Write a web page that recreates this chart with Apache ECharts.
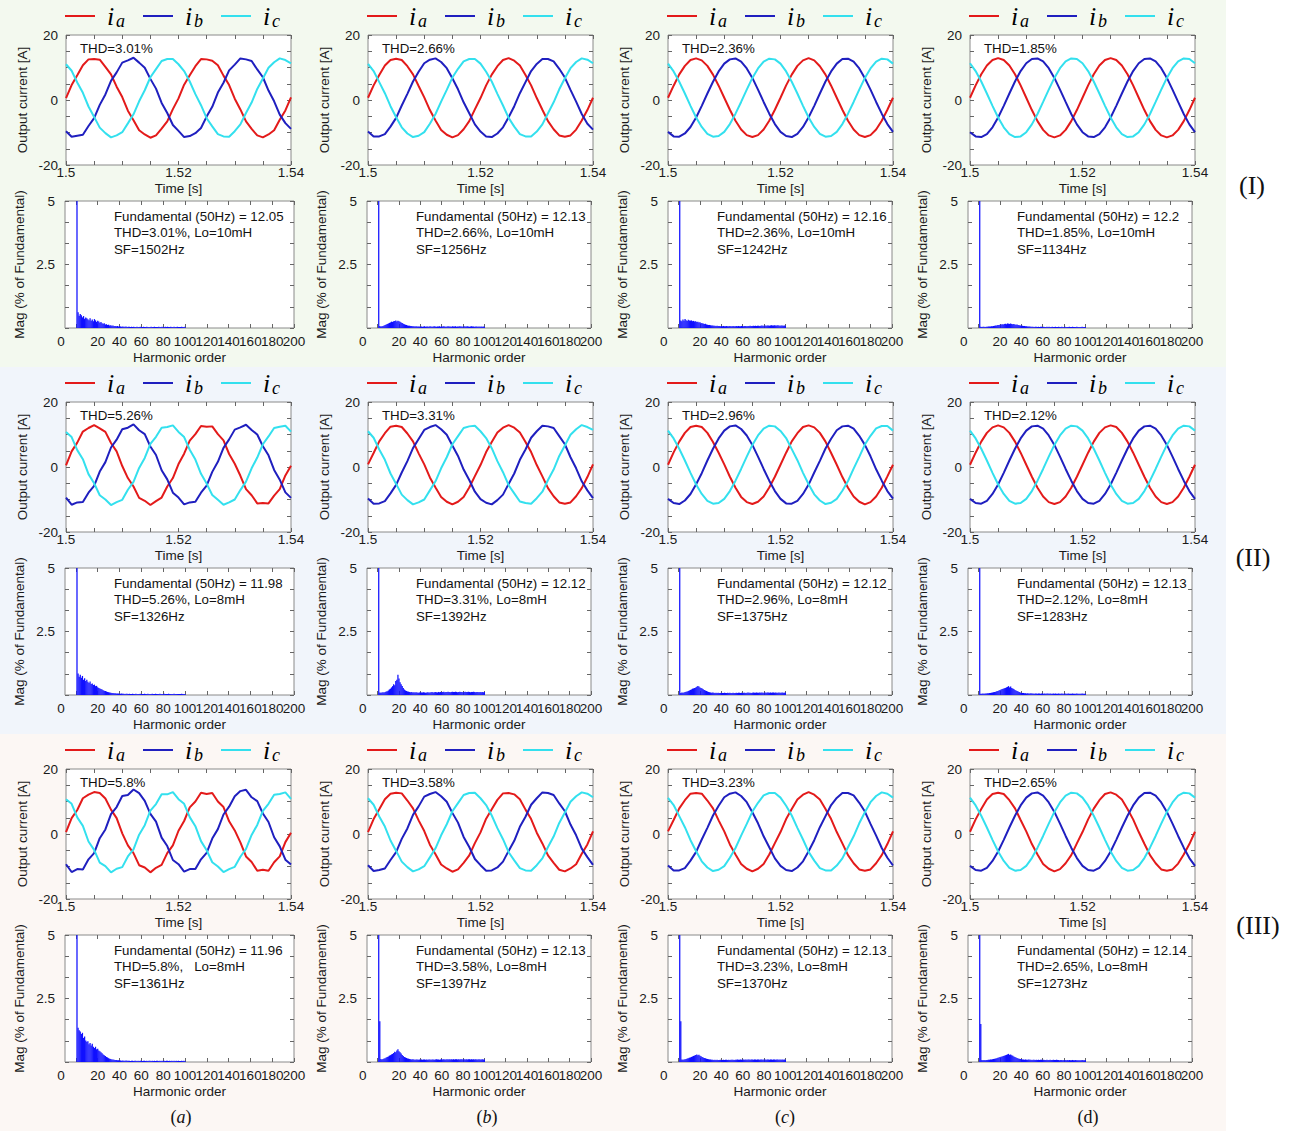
<!DOCTYPE html>
<html><head><meta charset="utf-8">
<script src="https://cdn.jsdelivr.net/npm/echarts/dist/echarts.min.js"></script>
<style>html,body{margin:0;padding:0;background:#fff}#c{width:1300px;height:1131px}</style>
</head><body><div id="c"></div><script>
// ---------------- DATA ----------------
const timeS = [1.500,1.501,1.502,1.503,1.504,1.505,1.506,1.507,1.508,1.509,1.510,1.511,1.512,1.513,1.514,1.515,1.516,1.517,1.518,1.519,1.520,1.521,1.522,1.523,1.524,1.525,1.526,1.527,1.528,1.529,1.530,1.531,1.532,1.533,1.534,1.535,1.536,1.537,1.538,1.539,1.540];
const harmonicTicks = [0,20,40,60,80,100,120,140,160,180,200];

// Row I
const ia_Ia = [0.6,4.6,7.6,10.7,12.5,12.6,12.4,10.2,7.9,4.1,0.9,-3.3,-6.2,-9.3,-10.6,-11.6,-10.9,-8.8,-6.6,-2.8,0.5,4.7,7.6,10.4,12.6,12.5,12.1,10.7,7.5,4.6,0.4,-2.9,-6.6,-8.9,-10.9,-11.5,-10.6,-9.3,-6.1,-3.2,0.8];
const ib_Ia = [-9.6,-11.3,-11.0,-10.7,-8.0,-5.6,-1.5,1.7,5.9,8.5,11.5,12.2,13.0,11.5,9.9,6.5,3.5,-0.9,-4.0,-7.7,-9.5,-11.4,-11.1,-10.2,-8.6,-5.1,-2.1,2.3,5.3,9.1,10.9,12.8,12.5,12.0,9.4,7.0,2.9,-0.4,-4.5,-7.1,-8.9];
const ic_Ia = [11.0,9.0,5.4,2.2,-2.0,-5.2,-8.5,-10.2,-11.5,-10.9,-9.9,-7.2,-4.4,-0.4,3.0,7.0,9.5,12.0,12.6,12.6,11.0,8.9,5.7,1.8,-1.6,-5.6,-8.1,-10.5,-11.2,-11.3,-9.6,-7.5,-4.0,-0.8,3.4,6.6,9.9,11.6,12.8,12.3,11.3];
const ia_Ib = [0.7,4.5,7.7,10.6,12.3,12.7,12.3,10.4,7.9,4.3,0.8,-3.1,-6.3,-9.2,-10.7,-11.5,-10.8,-9.0,-6.5,-2.9,0.6,4.5,7.8,10.4,12.3,12.9,12.1,10.6,7.7,4.5,0.6,-3.0,-6.5,-9.0,-10.9,-11.3,-10.9,-9.1,-6.3,-3.1,0.7];
const ib_Ib = [-9.7,-11.2,-11.2,-10.5,-8.2,-5.5,-1.7,1.9,5.7,8.7,11.3,12.4,12.8,11.7,9.8,6.7,3.3,-0.7,-4.1,-7.5,-9.7,-11.2,-11.4,-10.3,-8.4,-5.3,-1.9,2.1,5.5,8.9,11.1,12.6,12.6,11.9,9.6,6.9,3.1,-0.5,-4.3,-7.3,-9.1];
const ic_Ib = [11.1,8.9,5.5,2.1,-1.9,-5.3,-8.4,-10.3,-11.4,-11.0,-9.9,-7.3,-4.3,-0.5,3.1,6.9,9.6,11.9,12.6,12.6,11.2,8.7,5.7,1.9,-1.7,-5.5,-8.2,-10.5,-11.2,-11.2,-9.7,-7.5,-4.1,-0.7,3.3,6.7,9.8,11.7,12.8,12.4,11.3];
const ia_Ic = [0.7,4.4,7.9,10.5,12.3,12.8,12.2,10.5,7.8,4.4,0.7,-3.0,-6.4,-9.1,-10.8,-11.4,-10.8,-9.1,-6.4,-3.0,0.7,4.5,7.8,10.5,12.2,12.9,12.2,10.4,7.8,4.4,0.7,-3.0,-6.4,-9.1,-10.8,-11.4,-10.8,-9.1,-6.4,-3.0,0.7];
const ib_Ic = [-9.8,-11.2,-11.3,-10.3,-8.3,-5.4,-1.8,2.0,5.6,8.8,11.2,12.5,12.8,11.8,9.7,6.8,3.2,-0.6,-4.2,-7.4,-9.8,-11.1,-11.4,-10.4,-8.3,-5.3,-1.8,2.0,5.7,8.8,11.2,12.6,12.7,11.8,9.7,6.7,3.2,-0.6,-4.2,-7.4,-9.8];
const ic_Ic = [11.2,8.8,5.6,2.0,-1.8,-5.4,-8.3,-10.4,-11.3,-11.1,-9.8,-7.4,-4.2,-0.6,3.2,6.8,9.7,11.8,12.7,12.5,11.2,8.8,5.6,2.0,-1.8,-5.4,-8.3,-10.4,-11.3,-11.1,-9.8,-7.4,-4.2,-0.6,3.2,6.8,9.7,11.8,12.7,12.5,11.2];
const ia_Id = [0.7,4.5,7.9,10.6,12.3,12.9,12.3,10.6,7.9,4.5,0.7,-3.1,-6.5,-9.2,-10.9,-11.5,-10.9,-9.2,-6.5,-3.1,0.7,4.5,7.9,10.6,12.3,12.9,12.3,10.6,7.9,4.5,0.7,-3.1,-6.5,-9.2,-10.9,-11.5,-10.9,-9.2,-6.5,-3.1,0.7];
const ib_Id = [-9.9,-11.2,-11.4,-10.5,-8.4,-5.4,-1.8,2.0,5.7,8.9,11.3,12.6,12.8,11.9,9.8,6.8,3.2,-0.6,-4.3,-7.5,-9.9,-11.2,-11.4,-10.5,-8.4,-5.4,-1.8,2.0,5.7,8.9,11.3,12.6,12.8,11.9,9.8,6.8,3.2,-0.6,-4.3,-7.5,-9.9];
const ic_Id = [11.3,8.9,5.7,2.0,-1.8,-5.4,-8.4,-10.5,-11.4,-11.2,-9.9,-7.5,-4.3,-0.6,3.2,6.8,9.8,11.9,12.8,12.6,11.3,8.9,5.7,2.0,-1.8,-5.4,-8.4,-10.5,-11.4,-11.2,-9.9,-7.5,-4.3,-0.6,3.2,6.8,9.8,11.9,12.8,12.6,11.3];
// Row II
const ia_IIa = [0.5,4.8,7.5,10.9,12.0,12.9,11.9,10.8,7.4,4.8,0.3,-3.4,-6.0,-9.5,-10.4,-11.7,-10.5,-9.4,-6.0,-3.4,0.9,4.1,8.1,10.1,12.6,12.4,12.5,10.1,8.2,4.0,1.0,-2.7,-6.8,-8.7,-11.2,-11.1,-11.2,-8.8,-6.8,-2.6,0.4];
const ib_IIa = [-9.4,-11.6,-10.9,-10.8,-7.9,-5.8,-1.4,1.5,6.0,8.4,11.6,12.1,13.1,11.3,10.1,6.3,3.7,-1.0,-3.8,-7.9,-9.4,-11.5,-10.9,-10.7,-7.9,-5.7,-1.5,1.6,5.9,8.5,11.5,12.2,13.0,11.4,10.0,6.4,3.6,-0.9,-3.9,-7.8,-9.5];
const ic_IIa = [10.8,9.2,5.2,2.4,-2.2,-5.0,-8.7,-10.0,-11.7,-10.8,-10.1,-7.0,-4.6,-0.3,2.8,7.1,9.3,12.1,12.3,12.8,10.8,9.2,5.3,2.3,-2.1,-5.1,-8.6,-10.1,-11.6,-10.9,-10.0,-7.1,-4.5,-0.4,2.9,7.0,9.4,12.0,12.4,12.7,10.9];
const ia_IIb = [0.8,4.3,7.9,10.4,12.4,12.7,12.3,10.3,7.9,4.2,0.8,-3.2,-6.3,-9.2,-10.7,-11.5,-10.7,-9.2,-6.3,-2.8,0.6,4.6,7.7,10.6,12.1,12.9,12.1,10.6,7.7,4.6,0.6,-2.9,-6.5,-9.0,-10.9,-11.3,-10.9,-9.0,-6.5,-3.1,0.8];
const ib_IIb = [-9.7,-11.3,-11.2,-10.5,-8.1,-5.5,-1.7,1.8,5.8,8.6,11.4,12.3,12.9,11.6,9.9,6.6,3.4,-0.8,-4.0,-7.6,-9.9,-11.0,-11.5,-10.2,-8.5,-5.2,-2.0,2.2,5.4,9.0,11.0,12.7,12.5,12.0,9.5,7.0,3.0,-0.4,-4.4,-7.2,-9.6];
const ic_IIb = [11.0,9.0,5.4,2.2,-2.0,-5.2,-8.5,-10.2,-11.5,-10.9,-10.0,-7.2,-4.4,-0.4,3.0,7.0,9.5,12.0,12.5,12.7,11.0,8.9,5.8,1.8,-1.6,-5.6,-8.1,-10.6,-11.1,-11.3,-9.6,-7.6,-4.0,-0.8,3.4,6.6,9.9,11.6,12.9,12.3,11.4];
const ia_IIc = [0.7,4.5,7.8,10.5,12.3,12.7,12.3,10.5,7.7,4.4,0.8,-3.0,-6.4,-9.2,-10.8,-11.4,-10.7,-9.1,-6.3,-3.0,0.7,4.4,7.9,10.4,12.3,12.8,12.2,10.5,7.8,4.3,0.7,-3.1,-6.4,-9.1,-10.7,-11.5,-10.8,-9.1,-6.4,-2.9,0.7];
const ib_IIc = [-9.8,-11.1,-11.4,-10.3,-8.3,-5.3,-1.9,2.0,5.6,8.8,11.2,12.5,12.8,11.7,9.7,6.8,3.2,-0.6,-4.2,-7.4,-9.8,-11.2,-11.3,-10.4,-8.3,-5.4,-1.7,1.9,5.7,8.7,11.3,12.5,12.7,11.8,9.6,6.8,3.3,-0.7,-4.2,-7.4,-9.7];
const ic_IIc = [11.2,8.8,5.6,2.0,-1.8,-5.4,-8.3,-10.4,-11.3,-11.1,-9.8,-7.4,-4.2,-0.6,3.2,6.8,9.7,11.8,12.7,12.5,11.1,8.9,5.5,2.1,-1.8,-5.3,-8.4,-10.3,-11.4,-11.0,-9.8,-7.3,-4.3,-0.5,3.1,6.9,9.6,11.9,12.6,12.6,11.2];
const ia_IId = [0.7,4.4,7.8,10.5,12.2,12.8,12.2,10.5,7.8,4.4,0.7,-3.0,-6.4,-9.1,-10.8,-11.4,-10.8,-9.1,-6.4,-3.0,0.7,4.4,7.8,10.5,12.2,12.8,12.3,10.5,7.8,4.4,0.7,-3.0,-6.4,-9.1,-10.8,-11.4,-10.8,-9.1,-6.4,-3.0,0.7];
const ib_IId = [-9.8,-11.1,-11.3,-10.4,-8.3,-5.4,-1.8,2.0,5.6,8.8,11.2,12.5,12.7,11.8,9.7,6.8,3.2,-0.6,-4.2,-7.4,-9.8,-11.1,-11.3,-10.4,-8.3,-5.4,-1.8,2.0,5.6,8.8,11.2,12.5,12.7,11.8,9.7,6.8,3.2,-0.6,-4.2,-7.4,-9.8];
const ic_IId = [11.2,8.8,5.6,2.0,-1.8,-5.4,-8.3,-10.4,-11.3,-11.1,-9.8,-7.4,-4.2,-0.6,3.2,6.8,9.7,11.8,12.7,12.5,11.2,8.8,5.6,2.0,-1.8,-5.4,-8.3,-10.4,-11.3,-11.1,-9.8,-7.4,-4.2,-0.6,3.2,6.8,9.7,11.8,12.7,12.5,11.2];
// Row III
const ia_IIIa = [0.6,4.9,7.4,11.0,12.1,12.9,12.6,10.9,7.5,4.9,0.2,-3.5,-5.9,-9.6,-10.3,-11.8,-10.4,-9.5,-5.9,-3.5,1.0,4.0,8.2,10.0,12.7,12.3,12.6,10.0,8.3,3.9,1.1,-2.6,-6.9,-8.6,-11.3,-11.0,-11.3,-8.7,-6.9,-2.5,0.4];
const ib_IIIa = [-9.3,-11.7,-10.8,-10.9,-7.8,-5.9,-1.3,1.4,6.1,8.3,11.7,12.0,13.7,12.6,10.2,6.2,3.8,-1.1,-3.7,-8.0,-9.3,-11.6,-10.8,-10.8,-7.8,-5.8,-1.4,1.5,6.0,8.4,11.6,13.2,13.6,11.3,10.1,6.3,3.7,-1.0,-3.8,-7.9,-9.4];
const ic_IIIa = [10.7,9.3,5.1,2.5,-2.3,-4.9,-8.8,-9.9,-11.8,-10.7,-10.2,-6.9,-4.7,-0.2,2.7,7.2,9.2,12.2,12.2,12.9,10.7,9.3,5.2,2.4,-2.2,-5.0,-8.7,-10.0,-11.7,-10.8,-10.1,-7.0,-4.6,-0.3,2.8,7.1,9.3,12.1,12.3,12.8,10.8];
const ia_IIIb = [0.6,4.6,7.6,10.7,12.4,12.7,12.5,10.3,7.9,4.2,0.9,-3.3,-6.2,-9.4,-10.6,-11.6,-10.9,-8.9,-6.6,-2.8,0.5,4.7,7.6,10.5,12.5,12.6,12.2,10.7,7.5,4.6,0.4,-2.9,-6.6,-8.9,-11.0,-11.5,-10.6,-9.3,-6.1,-3.2,0.8];
const ib_IIIb = [-9.6,-11.4,-11.1,-10.6,-8.0,-5.6,-1.5,1.7,5.9,8.5,11.5,12.3,12.9,11.6,9.9,6.5,3.5,-0.9,-4.0,-7.7,-9.6,-11.3,-11.2,-10.3,-8.5,-5.2,-2.1,2.2,5.3,9.0,11.0,12.8,12.6,12.0,9.4,7.0,2.9,-0.4,-4.5,-7.1,-9.5];
const ic_IIIb = [11.0,9.0,5.4,2.3,-2.0,-5.2,-8.5,-10.2,-11.5,-10.9,-9.9,-7.2,-4.4,-0.4,3.0,7.0,9.5,12.0,12.6,12.7,11.0,8.9,5.7,1.8,-1.6,-5.6,-8.1,-10.5,-11.2,-11.3,-9.6,-7.5,-4.0,-0.8,3.4,6.6,9.9,11.6,12.8,12.4,11.3];
const ia_IIIc = [0.8,4.3,7.9,10.4,12.4,12.6,12.4,10.3,7.9,4.2,0.8,-3.2,-6.3,-9.2,-10.7,-11.5,-10.7,-9.2,-6.3,-2.8,0.6,4.6,7.7,10.6,12.1,12.9,12.1,10.6,7.7,4.6,0.6,-2.9,-6.5,-9.0,-10.9,-11.3,-10.9,-9.0,-6.5,-3.1,0.8];
const ib_IIIc = [-9.7,-11.2,-11.2,-10.5,-8.2,-5.5,-1.7,1.9,5.7,8.7,11.3,12.4,12.8,11.7,9.8,6.7,3.3,-0.7,-4.1,-7.5,-9.8,-11.1,-11.4,-10.3,-8.4,-5.3,-1.9,2.1,5.5,8.9,11.1,12.6,12.6,11.9,9.6,6.9,3.1,-0.5,-4.3,-7.3,-9.7];
const ic_IIIc = [11.1,8.9,5.5,2.1,-1.9,-5.3,-8.4,-10.3,-11.4,-11.0,-9.9,-7.3,-4.3,-0.5,3.1,6.9,9.6,11.9,12.6,12.6,11.2,8.7,5.7,1.9,-1.7,-5.5,-8.2,-10.5,-11.2,-11.2,-9.7,-7.5,-4.1,-0.7,3.3,6.7,9.8,11.7,12.8,12.4,11.2];
const ia_IIId = [0.7,4.5,7.7,10.6,12.3,12.7,12.3,10.4,7.9,4.3,0.8,-3.1,-6.3,-9.2,-10.7,-11.5,-10.8,-9.0,-6.5,-2.9,0.6,4.5,7.8,10.4,12.3,12.8,12.1,10.6,7.7,4.5,0.6,-3.0,-6.5,-9.0,-10.9,-11.3,-10.9,-9.1,-6.3,-3.1,0.7];
const ib_IIId = [-9.8,-11.1,-11.3,-10.4,-8.3,-5.4,-1.8,2.0,5.6,8.8,11.2,12.5,12.8,11.8,9.7,6.8,3.2,-0.6,-4.2,-7.4,-9.8,-11.1,-11.3,-10.4,-8.3,-5.4,-1.8,2.0,5.6,8.8,11.2,12.6,12.7,11.8,9.7,6.8,3.2,-0.6,-4.2,-7.4,-9.8];
const ic_IIId = [11.2,8.8,5.6,2.0,-1.8,-5.4,-8.3,-10.4,-11.3,-11.1,-9.8,-7.4,-4.2,-0.6,3.2,6.8,9.7,11.8,12.7,12.5,11.2,8.8,5.6,2.0,-1.8,-5.4,-8.3,-10.4,-11.3,-11.1,-9.8,-7.4,-4.2,-0.6,3.2,6.8,9.7,11.8,12.7,12.5,11.2];

// Spectra: magnitude (% of fundamental) for harmonic orders 1..100
const spec_Ia = [100,0.62,0.48,0.55,0.5,0.42,0.47,0.36,0.41,0.38,0.34,0.31,0.38,0.29,0.33,0.27,0.35,0.3,0.24,0.29,0.26,0.21,0.24,0.19,0.17,0.19,0.14,0.15,0.12,0.13,0.1,0.11,0.09,0.1,0.08,0.08,0.07,0.08,0.06,0.07,0.06,0.05,0.06,0.05,0.05,0.06,0.04,0.05,0.05,0.04,0.05,0.04,0.05,0.04,0.04,0.05,0.04,0.04,0.05,0.04,0.04,0.05,0.04,0.04,0.05,0.04,0.04,0.04,0.05,0.04,0.04,0.05,0.04,0.04,0.04,0.05,0.04,0.04,0.05,0.04,0.04,0.05,0.04,0.05,0.04,0.04,0.05,0.04,0.04,0.05,0.04,0.04,0.05,0.04,0.04,0.04,0.05,0.04,0.04,0.05];
const spec_Ib = [100,0.08,0.06,0.07,0.08,0.1,0.12,0.14,0.16,0.18,0.2,0.22,0.25,0.24,0.27,0.28,0.3,0.26,0.29,0.27,0.25,0.22,0.2,0.17,0.15,0.13,0.12,0.1,0.09,0.09,0.08,0.08,0.07,0.07,0.06,0.07,0.06,0.06,0.06,0.05,0.06,0.05,0.06,0.07,0.05,0.06,0.06,0.05,0.07,0.06,0.05,0.06,0.07,0.06,0.05,0.06,0.06,0.07,0.05,0.06,0.06,0.07,0.06,0.05,0.06,0.07,0.06,0.06,0.05,0.07,0.06,0.06,0.07,0.05,0.06,0.06,0.07,0.06,0.06,0.05,0.07,0.06,0.06,0.07,0.06,0.05,0.06,0.07,0.06,0.06,0.05,0.06,0.06,0.05,0.06,0.05,0.06,0.05,0.06,0.05];
const spec_Ic = [100,0.3,0.27,0.33,0.29,0.35,0.31,0.28,0.32,0.3,0.29,0.3,0.27,0.28,0.26,0.27,0.24,0.25,0.22,0.23,0.2,0.19,0.18,0.16,0.17,0.14,0.13,0.12,0.12,0.11,0.1,0.1,0.09,0.09,0.08,0.09,0.08,0.08,0.07,0.08,0.07,0.08,0.07,0.07,0.08,0.07,0.07,0.08,0.07,0.07,0.08,0.07,0.07,0.08,0.07,0.08,0.07,0.07,0.08,0.08,0.07,0.08,0.08,0.07,0.08,0.08,0.09,0.08,0.08,0.09,0.08,0.09,0.08,0.09,0.09,0.08,0.09,0.1,0.09,0.09,0.1,0.09,0.1,0.1,0.09,0.1,0.11,0.1,0.1,0.11,0.1,0.1,0.11,0.1,0.09,0.1,0.1,0.09,0.1,0.09];
const spec_Id = [100,0.05,0.04,0.05,0.05,0.04,0.05,0.05,0.06,0.06,0.06,0.07,0.07,0.08,0.09,0.1,0.1,0.12,0.12,0.13,0.14,0.15,0.14,0.16,0.17,0.15,0.18,0.17,0.16,0.18,0.16,0.15,0.16,0.14,0.13,0.14,0.12,0.11,0.1,0.1,0.09,0.08,0.08,0.07,0.07,0.06,0.06,0.06,0.05,0.05,0.05,0.04,0.05,0.05,0.04,0.05,0.04,0.05,0.05,0.04,0.05,0.04,0.04,0.05,0.04,0.05,0.04,0.04,0.05,0.04,0.04,0.05,0.04,0.04,0.05,0.04,0.04,0.05,0.04,0.04,0.05,0.04,0.04,0.04,0.05,0.04,0.04,0.05,0.04,0.04,0.04,0.05,0.04,0.04,0.04,0.04,0.05,0.04,0.04,0.04];
const spec_IIa = [100,0.85,0.72,0.8,0.68,0.75,0.6,0.66,0.55,0.6,0.52,0.47,0.53,0.43,0.45,0.39,0.41,0.35,0.36,0.31,0.28,0.26,0.24,0.22,0.19,0.17,0.16,0.14,0.12,0.11,0.1,0.09,0.08,0.08,0.07,0.07,0.06,0.06,0.06,0.05,0.05,0.06,0.05,0.05,0.04,0.05,0.05,0.04,0.05,0.04,0.04,0.05,0.04,0.04,0.05,0.04,0.04,0.04,0.05,0.04,0.04,0.04,0.05,0.04,0.04,0.05,0.04,0.04,0.04,0.05,0.04,0.04,0.05,0.04,0.04,0.04,0.05,0.04,0.04,0.04,0.05,0.04,0.04,0.04,0.05,0.04,0.04,0.04,0.04,0.05,0.04,0.04,0.04,0.04,0.04,0.04,0.05,0.04,0.04,0.04];
const spec_IIb = [100,0.1,0.09,0.1,0.11,0.1,0.12,0.14,0.15,0.18,0.22,0.25,0.3,0.35,0.42,0.38,0.55,0.6,0.8,0.65,0.5,0.42,0.35,0.28,0.22,0.18,0.16,0.14,0.13,0.12,0.11,0.12,0.1,0.11,0.1,0.11,0.1,0.09,0.1,0.11,0.1,0.1,0.11,0.1,0.09,0.1,0.11,0.1,0.1,0.11,0.12,0.1,0.11,0.12,0.11,0.1,0.12,0.11,0.12,0.11,0.12,0.13,0.11,0.12,0.12,0.13,0.12,0.11,0.12,0.13,0.12,0.12,0.13,0.12,0.11,0.12,0.13,0.12,0.12,0.11,0.12,0.13,0.12,0.12,0.13,0.12,0.11,0.12,0.12,0.13,0.12,0.11,0.12,0.12,0.11,0.12,0.11,0.12,0.11,0.12];
const spec_IIc = [100,0.08,0.1,0.09,0.1,0.12,0.13,0.14,0.16,0.18,0.2,0.22,0.25,0.26,0.28,0.3,0.32,0.35,0.33,0.3,0.28,0.26,0.23,0.2,0.18,0.16,0.14,0.12,0.11,0.1,0.09,0.1,0.09,0.08,0.09,0.08,0.09,0.08,0.08,0.09,0.08,0.08,0.09,0.08,0.08,0.09,0.08,0.09,0.08,0.08,0.09,0.08,0.08,0.09,0.08,0.09,0.09,0.08,0.09,0.08,0.09,0.09,0.08,0.09,0.1,0.09,0.09,0.08,0.09,0.1,0.09,0.09,0.1,0.09,0.09,0.1,0.09,0.1,0.09,0.09,0.1,0.09,0.1,0.1,0.09,0.1,0.09,0.1,0.1,0.09,0.1,0.09,0.09,0.1,0.09,0.09,0.1,0.09,0.09,0.1];
const spec_IId = [100,0.05,0.05,0.06,0.05,0.06,0.06,0.07,0.07,0.08,0.08,0.09,0.1,0.11,0.12,0.13,0.15,0.16,0.18,0.2,0.22,0.24,0.25,0.27,0.28,0.3,0.32,0.35,0.3,0.33,0.28,0.26,0.24,0.2,0.18,0.16,0.14,0.12,0.1,0.09,0.08,0.08,0.07,0.07,0.06,0.07,0.06,0.06,0.07,0.06,0.06,0.05,0.06,0.06,0.05,0.06,0.06,0.05,0.06,0.06,0.05,0.06,0.05,0.06,0.06,0.05,0.06,0.05,0.05,0.06,0.05,0.06,0.05,0.05,0.06,0.05,0.05,0.06,0.05,0.05,0.06,0.05,0.05,0.06,0.05,0.05,0.05,0.06,0.05,0.05,0.05,0.06,0.05,0.05,0.05,0.05,0.06,0.05,0.05,0.05];
const spec_IIIa = [100,1.35,1.25,1.2,1.1,1.15,0.95,1.0,0.85,0.8,0.82,0.7,0.75,0.65,0.72,0.6,0.55,0.6,0.5,0.52,0.45,0.42,0.38,0.34,0.3,0.27,0.24,0.2,0.18,0.15,0.13,0.12,0.1,0.1,0.09,0.08,0.08,0.07,0.07,0.06,0.06,0.05,0.06,0.05,0.05,0.06,0.05,0.05,0.05,0.04,0.05,0.05,0.04,0.05,0.05,0.04,0.05,0.04,0.05,0.05,0.04,0.05,0.05,0.04,0.05,0.04,0.05,0.05,0.04,0.05,0.04,0.05,0.04,0.05,0.05,0.04,0.05,0.04,0.05,0.04,0.05,0.04,0.05,0.05,0.04,0.05,0.04,0.05,0.04,0.05,0.04,0.05,0.04,0.05,0.04,0.04,0.05,0.04,0.05,0.04];
const spec_IIIb = [100,1.6,0.12,0.1,0.12,0.14,0.15,0.18,0.2,0.22,0.25,0.27,0.3,0.32,0.35,0.4,0.38,0.45,0.5,0.42,0.38,0.33,0.28,0.24,0.2,0.18,0.16,0.14,0.13,0.12,0.11,0.1,0.11,0.1,0.09,0.1,0.1,0.09,0.1,0.09,0.1,0.09,0.1,0.1,0.09,0.1,0.09,0.1,0.1,0.09,0.1,0.1,0.09,0.1,0.11,0.1,0.1,0.09,0.1,0.11,0.1,0.11,0.1,0.1,0.11,0.1,0.11,0.1,0.11,0.1,0.11,0.1,0.11,0.11,0.1,0.11,0.1,0.11,0.11,0.1,0.11,0.1,0.11,0.1,0.11,0.11,0.1,0.11,0.1,0.11,0.1,0.11,0.1,0.1,0.11,0.1,0.1,0.11,0.1,0.1];
const spec_IIIc = [100,1.6,0.1,0.09,0.1,0.11,0.12,0.14,0.15,0.17,0.18,0.2,0.22,0.24,0.26,0.28,0.3,0.27,0.29,0.25,0.23,0.2,0.18,0.16,0.15,0.13,0.12,0.11,0.1,0.1,0.09,0.09,0.08,0.09,0.08,0.09,0.08,0.08,0.09,0.08,0.08,0.09,0.08,0.09,0.09,0.08,0.09,0.08,0.09,0.09,0.09,0.08,0.09,0.09,0.1,0.09,0.09,0.1,0.09,0.09,0.1,0.09,0.1,0.09,0.1,0.1,0.09,0.1,0.1,0.09,0.1,0.1,0.09,0.1,0.1,0.09,0.1,0.1,0.09,0.1,0.1,0.09,0.1,0.1,0.09,0.1,0.1,0.09,0.1,0.1,0.09,0.1,0.1,0.09,0.1,0.09,0.1,0.09,0.1,0.09];
const spec_IIId = [100,1.5,0.08,0.07,0.08,0.07,0.08,0.08,0.09,0.09,0.1,0.1,0.11,0.12,0.13,0.14,0.15,0.17,0.18,0.2,0.21,0.22,0.24,0.25,0.27,0.28,0.3,0.32,0.28,0.3,0.27,0.25,0.22,0.2,0.18,0.16,0.14,0.13,0.12,0.11,0.1,0.1,0.09,0.1,0.09,0.09,0.1,0.09,0.09,0.08,0.09,0.09,0.08,0.09,0.08,0.09,0.08,0.09,0.09,0.08,0.09,0.08,0.08,0.09,0.08,0.08,0.09,0.08,0.08,0.09,0.08,0.08,0.09,0.08,0.08,0.07,0.08,0.08,0.07,0.08,0.08,0.07,0.08,0.07,0.08,0.07,0.07,0.08,0.07,0.07,0.08,0.07,0.07,0.07,0.07,0.07,0.08,0.07,0.07,0.07];

// Annotations
const thdLabels  = ['THD=3.01%','THD=2.66%','THD=2.36%','THD=1.85%','THD=5.26%','THD=3.31%','THD=2.96%','THD=2.12%','THD=5.8%','THD=3.58%','THD=3.23%','THD=2.65%'];
const fundLabels = ['12.05','12.13','12.16','12.2','11.98','12.12','12.12','12.13','11.96','12.13','12.13','12.14'];
const thdLoLabels = ['THD=3.01%, Lo=10mH','THD=2.66%, Lo=10mH','THD=2.36%, Lo=10mH','THD=1.85%, Lo=10mH','THD=5.26%, Lo=8mH','THD=3.31%, Lo=8mH','THD=2.96%, Lo=8mH','THD=2.12%, Lo=8mH','THD=5.8%,   Lo=8mH','THD=3.58%, Lo=8mH','THD=3.23%, Lo=8mH','THD=2.65%, Lo=8mH'];
const sfLabels = ['SF=1502Hz','SF=1256Hz','SF=1242Hz','SF=1134Hz','SF=1326Hz','SF=1392Hz','SF=1375Hz','SF=1283Hz','SF=1361Hz','SF=1397Hz','SF=1370Hz','SF=1273Hz'];
const rowLabels = ['(I)','(II)','(III)'];
const colLabels = ['a','b','c','d'];

const IA = [ia_Ia,ia_Ib,ia_Ic,ia_Id,ia_IIa,ia_IIb,ia_IIc,ia_IId,ia_IIIa,ia_IIIb,ia_IIIc,ia_IIId];
const IB = [ib_Ia,ib_Ib,ib_Ic,ib_Id,ib_IIa,ib_IIb,ib_IIc,ib_IId,ib_IIIa,ib_IIIb,ib_IIIc,ib_IIId];
const IC = [ic_Ia,ic_Ib,ic_Ic,ic_Id,ic_IIa,ic_IIb,ic_IIc,ic_IId,ic_IIIa,ic_IIIb,ic_IIIc,ic_IIId];
const SPEC = [spec_Ia,spec_Ib,spec_Ic,spec_Id,spec_IIa,spec_IIb,spec_IIc,spec_IId,spec_IIIa,spec_IIIb,spec_IIIc,spec_IIId];

// ---------------- LAYOUT ----------------
const FONT = '"Liberation Sans", Arial, Helvetica, sans-serif';
const SERIF = '"Liberation Serif", "DejaVu Serif", serif';
const ROW_Y = [0, 367, 734];
const TIME_L = [66, 368, 668, 970], TIME_W = 225, TIME_T = 35, TIME_H = 130;
const SPEC_L = [65, 367, 668, 968], SPEC_W = [229, 224, 224, 224], SPEC_T = 201, SPEC_H = 127;
const BG = ['#f3f9ef', '#f1f5fb', '#fcf7f4'];
const C_A = '#e31a1a', C_B = '#1f1fbf', C_C = '#33e0ee', C_SPEC = '#1010ff';
const BOX = '#8a8a8a', TICK = '#666';
const txt = {fontFamily: FONT, fontSize: 13.5, color: '#1a1a1a'};

const option = {
  animation: false, backgroundColor: '#ffffff',
  textStyle: {fontFamily: FONT},
  grid: [], xAxis: [], yAxis: [], series: [], legend: [],
  graphic: {elements: []}
};
const G = option.graphic.elements;

// backgrounds
BG.forEach((c, r) => {
  const y0 = ROW_Y[r], y1 = r < 2 ? ROW_Y[r + 1] : 1131;
  G.push({type: 'rect', z: -100, silent: true, shape: {x: 0, y: y0, width: 1226, height: y1 - y0}, style: {fill: c}});
});

const tickStyle = {lineStyle: {color: TICK, width: 1}};
function tickAxis(extra) {
  return Object.assign({type: 'value', axisLine: {show: false, onZero: false}, splitLine: {show: false},
    axisTick: Object.assign({show: true, inside: true, length: 4}, tickStyle),
    axisLabel: {show: false}, nameMoveOverlap: false}, extra);
}
const fmtTime = v => { const q = v * 50; return Math.abs(q - Math.round(q)) < 1e-6 ? String(Math.round(v * 100) / 100) : ''; };
const fmtTimeY = v => (Math.abs(v % 20) < 1e-9 ? String(v) : '');
const fmtSpecY = v => (Math.abs(v - 5) < 1e-6 ? '5' : (Math.abs(v - 2.5) < 1e-6 ? '2.5' : ''));
const fmtHarm = v => (v === 0 ? '{z|0}' : (Number.isInteger(v) ? String(v) : ''));

for (let p = 0; p < 12; p++) {
  const r = Math.floor(p / 4), c = p % 4;
  // ---- time-domain panel ----
  const L = TIME_L[c], T = TIME_T + ROW_Y[r];
  let g = option.grid.length;
  option.grid.push({left: L, top: T, width: TIME_W, height: TIME_H, show: true, borderColor: BOX, borderWidth: 1, backgroundColor: '#fff', outerBoundsMode: 'none', containLabel: false});
  const xi = option.xAxis.length;
  option.xAxis.push(tickAxis({gridIndex: g, min: 1.5, max: 1.54, interval: 0.005,
    axisLabel: Object.assign({show: true, margin: 0, hideOverlap: false, formatter: fmtTime}, txt),
    name: 'Time [s]', nameLocation: 'middle', nameGap: 16, nameTextStyle: txt}));
  option.xAxis.push(tickAxis({gridIndex: g, position: 'top', min: 1.5, max: 1.54, interval: 0.005}));
  const yi = option.yAxis.length;
  option.yAxis.push(tickAxis({gridIndex: g, min: -20, max: 20, interval: 5,
    axisLabel: Object.assign({show: true, margin: 8, hideOverlap: false, formatter: fmtTimeY}, txt),
    name: 'Output current [A]', nameLocation: 'middle', nameGap: 37, nameTextStyle: txt}));
  option.yAxis.push(tickAxis({gridIndex: g, position: 'right', min: -20, max: 20, interval: 5}));
  [['ia', IA[p], C_A], ['ib', IB[p], C_B], ['ic', IC[p], C_C]].forEach(([nm, arr, col]) => {
    option.series.push({type: 'line', name: nm, xAxisIndex: xi, yAxisIndex: yi,
      data: timeS.map((t, i) => [t, arr[i]]), showSymbol: false, symbol: 'none',
      lineStyle: {color: col, width: 2}, itemStyle: {color: col}, silent: true});
  });
  option.legend.push({left: L - 1, top: 3 + ROW_Y[r], padding: 0, icon: 'rect', itemWidth: 30, itemHeight: 2, itemGap: 16,
    selectedMode: false, data: ['ia', 'ib', 'ic'],
    formatter: n => '{i|i}{s|' + n[1] + '}',
    textStyle: {rich: {
      i: {fontFamily: SERIF, fontStyle: 'italic', fontSize: 26, color: '#000', padding: [0, 0, 0, 7], width: 9, lineHeight: 28},
      s: {fontFamily: SERIF, fontStyle: 'italic', fontSize: 18, color: '#000', width: 11, lineHeight: 17, verticalAlign: 'bottom'}
    }}});
  G.push({type: 'text', x: L + 14, y: T + 13, z: 50, silent: true,
    style: {text: thdLabels[p], fontFamily: FONT, fontSize: 13.3, fill: '#111', align: 'left', verticalAlign: 'middle'}});

  // ---- spectrum panel ----
  const SL = SPEC_L[c], SW = SPEC_W[c], ST = SPEC_T + ROW_Y[r];
  g = option.grid.length;
  option.grid.push({left: SL, top: ST, width: SW, height: SPEC_H, show: true, borderColor: BOX, borderWidth: 1, backgroundColor: '#fff', outerBoundsMode: 'none', containLabel: false});
  const sxi = option.xAxis.length;
  option.xAxis.push({gridIndex: g, type: 'value', min: -10, max: 200,
    axisLine: {show: false, onZero: false}, splitLine: {show: false},
    axisTick: Object.assign({show: true, inside: true, length: 4, customValues: harmonicTicks}, tickStyle),
    axisLabel: Object.assign({show: true, margin: 6, hideOverlap: false,
      customValues: harmonicTicks.concat([199.99]), formatter: fmtHarm,
      rich: {z: {fontFamily: FONT, fontSize: 13.5, color: '#1a1a1a', padding: [0, 30, 0, 0]}}}, txt),
    name: 'Harmonic order', nameLocation: 'middle', nameGap: 22, nameTextStyle: txt, nameMoveOverlap: false});
  option.xAxis.push({gridIndex: g, type: 'value', position: 'top', min: -10, max: 200,
    axisLine: {show: false, onZero: false}, splitLine: {show: false}, axisLabel: {show: false},
    axisTick: Object.assign({show: true, inside: true, length: 4, customValues: harmonicTicks}, tickStyle)});
  const syi = option.yAxis.length;
  option.yAxis.push(tickAxis({gridIndex: g, min: 0, max: 5, interval: 5 / 6,
    axisLabel: Object.assign({show: true, margin: 10, hideOverlap: false, formatter: fmtSpecY}, txt),
    name: 'Mag (% of Fundamental)', nameLocation: 'middle', nameGap: 39, nameTextStyle: txt}));
  option.yAxis.push(tickAxis({gridIndex: g, position: 'right', min: 0, max: 5, interval: 5 / 6}));
  option.series.push({type: 'bar', name: 'spectrum', xAxisIndex: sxi, yAxisIndex: syi,
    data: SPEC[p].map((v, i) => [i + 1, v]), barWidth: 1.25, clip: true, silent: true,
    itemStyle: {color: C_SPEC}});
  G.push({type: 'text', x: SL + 49, y: ST + 7, z: 50, silent: true,
    style: {text: 'Fundamental (50Hz) = ' + fundLabels[p] + '\n' + thdLoLabels[p] + '\n' + sfLabels[p],
      fontFamily: FONT, fontSize: 13.3, lineHeight: 16.5, fill: '#111', align: 'left', verticalAlign: 'top'}});
}

// row labels and column labels
const rowX = [1252, 1253, 1258], rowY = [185, 557, 925];
rowLabels.forEach((t, r) => G.push({type: 'text', x: rowX[r], y: rowY[r], silent: true,
  style: {text: t, fontFamily: SERIF, fontSize: 26, fill: '#111', align: 'center', verticalAlign: 'middle'}}));
const colX = [181, 487, 785, 1088];
colLabels.forEach((t, c) => G.push({type: 'text', x: colX[c], y: 1117, silent: true,
  style: {rich: {p: {fontFamily: SERIF, fontSize: 18, fill: '#111'}, l: {fontFamily: SERIF, fontSize: 18, fontStyle: c < 3 ? 'italic' : 'normal', fill: '#111'}},
    text: '{p|(}{l|' + t + '}{p|)}', align: 'center', verticalAlign: 'middle'}}));

const chart = echarts.init(document.getElementById('c'), null, {renderer: 'svg', width: 1300, height: 1131});
chart.setOption(option);
</script></body></html>
